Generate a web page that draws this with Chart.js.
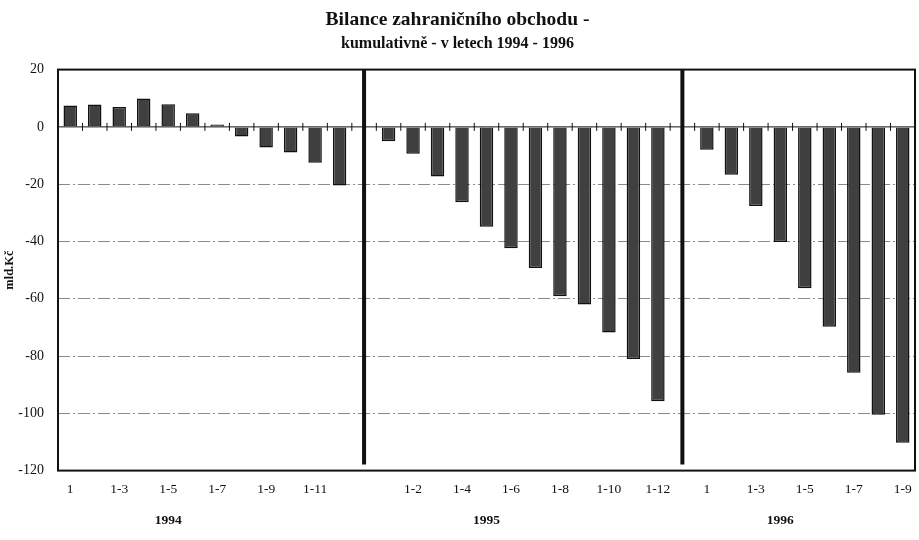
<!DOCTYPE html>
<html>
<head>
<meta charset="utf-8">
<script src="https://cdn.jsdelivr.net/npm/chart.js@4.4.1/dist/chart.umd.min.js"></script>
<style>
  html, body { margin: 0; padding: 0; background: #fff; }
</style>
</head>
<body>
<canvas id="tradeChart" width="919" height="540"></canvas>
<script>
// kumulativní bilance, mld. Kč
const months1994 = ['1', '1-2', '1-3', '1-4', '1-5', '1-6', '1-7', '1-8', '1-9', '1-10', '1-11', '1-12'];
const months1995 = ['1', '1-2', '1-3', '1-4', '1-5', '1-6', '1-7', '1-8', '1-9', '1-10', '1-11', '1-12'];
const months1996 = ['1', '1-2', '1-3', '1-4', '1-5', '1-6', '1-7', '1-8', '1-9'];
const values1994 = [7.5, 7.8, 6.9, 9.9, 7.9, 4.8, 0.8, -3.4, -7.2, -8.9, -12.5, -20.5];
const values1995 = [-5.0, -9.4, -17.3, -26.3, -34.9, -42.4, -49.3, -59.1, -62.0, -71.8, -81.0, -95.8];
const values1996 = [-8.0, -16.7, -27.6, -40.2, -56.3, -69.8, -85.8, -100.5, -110.3];
const years = ['1994', '1995', '1996'];
const yTicks = [20, 0, -20, -40, -60, -80, -100, -120];

// mezera mezi roky = prázdná kategorie se svislou čarou
const categories = [...months1994, '', ...months1995, '', ...months1996];
const values = [...values1994, null, ...values1995, null, ...values1996];
const gapIdx = [months1994.length, months1994.length + 1 + months1995.length];

// popisky roků pod osou (druhá osa x)
const yearRow = categories.map(() => '');
yearRow[4] = years[0];
yearRow[17] = years[1];
yearRow[29] = years[2];

const serif = 'Liberation Serif, Times New Roman, serif';

const framePlugin = {
    id: 'frame',
    beforeDatasetsDraw(chart) {
        const { ctx, chartArea: a, scales } = chart;
        const y0 = scales.y.getPixelForValue(0);
        ctx.save();
        ctx.strokeStyle = '#111';
        ctx.lineWidth = 1;
        ctx.beginPath();
        ctx.moveTo(a.left, y0);
        ctx.lineTo(a.right, y0);
        // malé značky mezi sloupci
        for (let i = 0; i < categories.length - 1; i++) {
            const xb = (scales.x.getPixelForValue(i) + scales.x.getPixelForValue(i + 1)) / 2;
            ctx.moveTo(xb, y0 - 4);
            ctx.lineTo(xb, y0 + 4);
        }
        ctx.stroke();
        ctx.restore();
    },
    afterDatasetsDraw(chart) {
        const { ctx, chartArea: a, scales } = chart;
        ctx.save();
        ctx.strokeStyle = '#111';
        ctx.lineWidth = 4;
        gapIdx.forEach(i => {
            const x = scales.x.getPixelForValue(i);
            ctx.beginPath();
            ctx.moveTo(x, a.top);
            ctx.lineTo(x, a.bottom - 6);
            ctx.stroke();
        });
        ctx.lineWidth = 2;
        ctx.strokeRect(a.left, a.top, a.right - a.left, a.bottom - a.top);
        ctx.restore();
    }
};

const ctx = document.getElementById('tradeChart').getContext('2d');
new Chart(ctx, {
    type: 'bar',
    data: {
        labels: categories,
        datasets: [{
            label: 'Bilance',
            data: values,
            backgroundColor: '#404040',
            borderColor: '#111',
            borderWidth: 1.5,
            barPercentage: 0.55,
            categoryPercentage: 1.0
        }]
    },
    options: {
        responsive: false,
        animation: false,
        layout: { padding: { left: 0, right: 4, top: 4, bottom: 7 } },
        plugins: {
            legend: { display: false },
            tooltip: { enabled: false },
            title: {
                display: true,
                text: 'Bilance zahraničního obchodu -',
                color: '#111',
                font: { family: serif, size: 19.5, weight: 'bold' },
                padding: { top: 4, bottom: 2 }
            },
            subtitle: {
                display: true,
                text: 'kumulativně - v letech 1994 - 1996',
                color: '#111',
                font: { family: serif, size: 16, weight: 'bold' },
                padding: { top: 1, bottom: 16 }
            }
        },
        scales: {
            x: {
                grid: { display: false },
                border: { display: false },
                ticks: {
                    autoSkip: false,
                    maxRotation: 0,
                    color: '#111',
                    font: { family: serif, size: 13.5 },
                    padding: 3,
                    callback: (v, i) => (i % 2 === 0 ? categories[i] : '')
                }
            },
            x2: {
                type: 'category',
                labels: yearRow,
                position: 'bottom',
                offset: true,
                grid: { display: false },
                border: { display: false },
                ticks: {
                    autoSkip: false,
                    maxRotation: 0,
                    color: '#111',
                    font: { family: serif, size: 13.5, weight: 'bold' },
                    padding: 4
                }
            },
            y: {
                min: yTicks[yTicks.length - 1],
                max: yTicks[0],
                afterBuildTicks: s => { s.ticks = yTicks.map(v => ({ value: v })); },
                afterFit: s => { s.width = 58; },
                grid: {
                    drawTicks: false,
                    color: c => (c.tick.value === 0 || c.tick.value === 20 || c.tick.value === -120) ? 'rgba(0,0,0,0)' : '#8a8a8a',
                    lineWidth: 1
                },
                border: { display: false, dash: [12, 3, 2, 3] },
                ticks: {
                    color: '#111',
                    font: { family: serif, size: 14 },
                    padding: 14
                },
                title: {
                    display: true,
                    text: 'mld.Kč',
                    color: '#111',
                    font: { family: serif, size: 12.5, weight: 'bold' },
                    padding: { top: 2, bottom: 0 }
                }
            }
        }
    },
    plugins: [framePlugin]
});
</script>
</body>
</html>
